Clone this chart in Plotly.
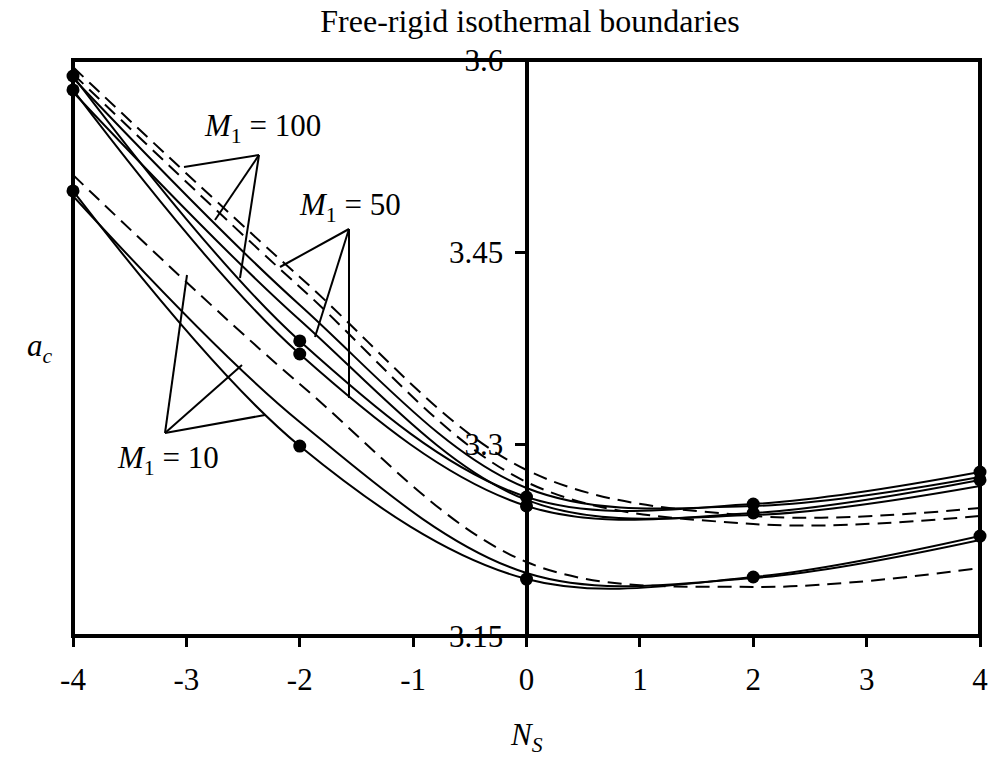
import plotly.graph_objects as go

# ---- data ----
ns = [-4, -2, 0, 2, 4]

# solid curves with markers
ac_m100_marked = [3.5875, 3.3805, 3.2586, 3.2531, 3.2781]
ac_m50_marked = [3.5766, 3.3703, 3.2516, 3.2461, 3.2719]
ac_m10_marked = [3.4977, 3.2984, 3.1945, 3.1961, 3.2281]

# companion solid curves (no markers)
ac_m100_solid = [3.5859, 3.4086, 3.2656, 3.2516, 3.2742]
ac_m50_solid = [3.5750, 3.3969, 3.2563, 3.2445, 3.2672]
ac_m10_solid = [3.4938, 3.3172, 3.1992, 3.1953, 3.2250]

# dashed curves
ac_m100_dash = [3.5945, 3.4305, 3.2797, 3.2438, 3.2500]
ac_m50_dash = [3.5891, 3.4227, 3.2703, 3.2375, 3.2438]
ac_m10_dash = [3.5102, 3.3469, 3.2078, 3.1883, 3.2031]

x_tick_vals = [-4, -3, -2, -1, 0, 1, 2, 3, 4]
x_tick_text = ["-4", "-3", "-2", "-1", "0", "1", "2", "3", "4"]
y_tick_vals = [3.15, 3.3, 3.45, 3.6]
y_tick_text = ["3.15", "3.3", "3.45", "3.6"]

labels = ["<i>M</i><sub>1</sub> = 100", "<i>M</i><sub>1</sub> = 50", "<i>M</i><sub>1</sub> = 10"]

FONT = "Liberation Serif"
W, H = 991, 759          # window size
L, R, T, B = 73, 980, 60, 636   # plot area in window pixels


def dx(px):
    return (px - L) / (R - L) * 8 - 4


def dy(py):
    return 3.6 - (py - T) / (B - T) * 0.45


fig = go.Figure()

line_solid = dict(color="black", width=2, shape="spline", smoothing=1)
line_dash = dict(color="black", width=2, shape="spline", smoothing=1, dash="14px,8px")

for ys in [ac_m100_marked, ac_m50_marked, ac_m10_marked]:
    fig.add_trace(go.Scatter(x=ns, y=ys, mode="lines+markers", line=line_solid,
                             marker=dict(size=13, color="black"), cliponaxis=False,
                             showlegend=False, hoverinfo="skip"))
for ys in [ac_m100_solid, ac_m50_solid, ac_m10_solid]:
    fig.add_trace(go.Scatter(x=ns, y=ys, mode="lines", line=line_solid,
                             showlegend=False, hoverinfo="skip"))
for ys in [ac_m100_dash, ac_m50_dash, ac_m10_dash]:
    fig.add_trace(go.Scatter(x=ns, y=ys, mode="lines", line=line_dash,
                             showlegend=False, hoverinfo="skip"))

# pointer lines (window-pixel positions of apex and ends)
pointers = [
    ((259, 155), [(184, 167), (215, 220), (240, 278)]),
    ((349, 229), [(280, 267), (315, 337), (349, 398)]),
    ((165, 433), [(187, 275), (242, 365), (265, 415)]),
]
shapes = []
for apex, ends in pointers:
    for e in ends:
        shapes.append(dict(type="line", xref="x", yref="y",
                           x0=dx(apex[0]), y0=dy(apex[1]), x1=dx(e[0]), y1=dy(e[1]),
                           line=dict(color="black", width=2)))
# frame
shapes.append(dict(type="rect", xref="paper", yref="paper", x0=0, x1=1, y0=0, y1=1,
                   line=dict(color="black", width=4), layer="above"))

label_pos = [(262, 128), (350, 207), (168, 460)]
annotations = []
for txt, (px, py) in zip(labels, label_pos):
    annotations.append(dict(text=txt, x=dx(px), y=dy(py), xref="x", yref="y",
                            xanchor="center", yanchor="middle",
                            showarrow=False, font=dict(family=FONT, size=31, color="black")))
annotations.append(dict(text="<i>N<sub>S</sub></i>", x=0.5, y=-(737 - B) / (B - T),
                        xref="paper", yref="paper", xanchor="center", yanchor="middle",
                        showarrow=False, font=dict(family=FONT, size=31, color="black")))
annotations.append(dict(text="<i>a<sub>c</sub></i>", x=-(L - 40) / (R - L), y=0.5,
                        xref="paper", yref="paper", xanchor="center", yanchor="middle",
                        showarrow=False, font=dict(family=FONT, size=31, color="black")))

fig.update_layout(
    width=W, height=H,
    margin=dict(l=L, r=W - R, t=T, b=H - B, autoexpand=False),
    paper_bgcolor="white", plot_bgcolor="white",
    font=dict(family=FONT, size=31, color="black"),
    title=dict(text="Free-rigid isothermal boundaries", x=530 / W, xanchor="center",
               y=1 - 21 / H, yanchor="middle",
               font=dict(family=FONT, size=32, color="black")),
    xaxis=dict(range=[-4, 4], tickvals=x_tick_vals, ticktext=x_tick_text,
               ticks="outside", ticklen=10, tickwidth=3, tickcolor="black",
               ticklabelstandoff=6,
               showgrid=False, zeroline=False, showline=False,
               tickfont=dict(family=FONT, size=31, color="black")),
    yaxis=dict(range=[3.15, 3.6], tickvals=y_tick_vals, ticktext=y_tick_text,
               anchor="free", position=0.5, side="left",
               showline=True, linewidth=4, linecolor="black",
               ticks="outside", ticklen=10, tickwidth=3, tickcolor="black",
               ticklabelstandoff=5,
               showgrid=False, zeroline=False,
               tickfont=dict(family=FONT, size=31, color="black")),
    shapes=shapes,
    annotations=annotations,
)

fig.write_html("out.html",
               config={"displayModeBar": False},
               post_script="document.body.style.margin='0';document.body.style.overflow='hidden';")
